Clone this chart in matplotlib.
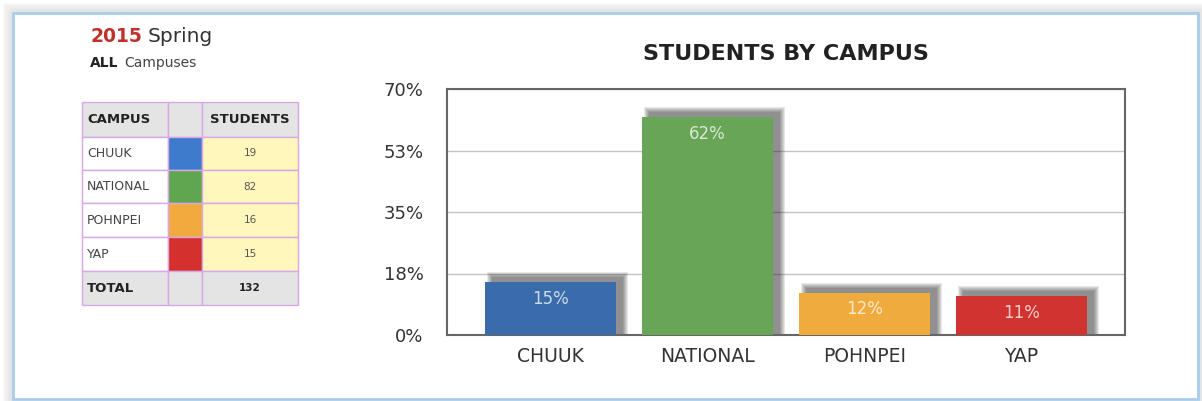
import matplotlib.pyplot as plt
from matplotlib.patches import Rectangle

# enrollment by campus
campuses = ['CHUUK', 'NATIONAL', 'POHNPEI', 'YAP']
students = [19, 82, 16, 15]
total = 132
percents = [15, 62, 12, 11]
bar_colors = ['#3a6cab', '#68a556', '#f0ab3e', '#d13330']
swatch_colors = ['#3f7bcc', '#5fa64f', '#f2aa3f', '#d3302e']
ytick_vals = [0, 17.5, 35, 52.5, 70]
ytick_labels = ['0%', '18%', '35%', '53%', '70%']

plt.rcParams['font.family'] = ['DejaVu Sans']

W, H = 1202, 401
fig = plt.figure(figsize=(W / 100, H / 100), dpi=100)

# background layer in pixel coords (y down)
bg = fig.add_axes([0, 0, 1, 1])
bg.set_xlim(0, W)
bg.set_ylim(H, 0)
bg.axis('off')

# soft shadow around the panel
for i in range(9):
    bg.add_patch(Rectangle((12 - i, 12 - i), 1188 + 2 * i, 400, facecolor='none',
                           edgecolor='#000000', lw=1.2, alpha=0.07 - i * 0.006))
bg.add_patch(Rectangle((13, 13), 1185, 386, facecolor='white', edgecolor='#a8cdec', lw=2))

# header text
t = bg.text(90, 37, '2015', color='#c0312c', fontsize=13.5, fontweight='bold', va='center')
bg.annotate('Spring', xy=(1, 0.5), xycoords=t, xytext=(4, 0), textcoords='offset points',
            color='#333333', fontsize=14.5, va='center')
t = bg.text(90, 63, 'ALL', color='#222222', fontsize=10, fontweight='bold', va='center')
bg.annotate('Campuses', xy=(1, 0.5), xycoords=t, xytext=(4, 0), textcoords='offset points',
            color='#444444', fontsize=10, va='center')

# summary table
col_x = [82, 168, 202, 298]
row_y = [102, 137, 170, 203, 237, 271, 305]
grid_c = '#d9a6e6'
rows = [('CAMPUS', None, 'STUDENTS')]
rows += [(c, sc, str(s)) for c, sc, s in zip(campuses, swatch_colors, students)]
rows += [('TOTAL', None, str(total))]
for r, (name, sw, val) in enumerate(rows):
    y0, y1 = row_y[r], row_y[r + 1]
    head = r == 0 or r == len(rows) - 1
    fills = ['#e4e4e4' if head else 'white',
             sw if sw else '#e4e4e4',
             '#e4e4e4' if head else '#fff7bc']
    for c in range(3):
        bg.add_patch(Rectangle((col_x[c], y0), col_x[c + 1] - col_x[c], y1 - y0,
                               facecolor=fills[c], edgecolor=grid_c, lw=1))
    ym = (y0 + y1) / 2
    bg.text(col_x[0] + 5, ym, name, fontsize=9.5 if head else 9, va='center',
            fontweight='bold' if head else 'normal', color='#222222' if head else '#444444')
    bg.text((col_x[2] + col_x[3]) / 2, ym, val, fontsize=9.5 if r == 0 else 7.5,
            va='center', ha='center', fontweight='bold' if head else 'normal',
            color='#222222' if head else '#555555')

# bar chart
ax = fig.add_axes([447 / W, 1 - 335 / H, (1125 - 447) / W, (335 - 89) / H])
x = list(range(len(campuses)))
bw = 0.83
px_x = 4.32 / 678
px_y = 70 / 246
# blurred drop shadow behind bars, shifted up and right
for k in range(6):
    ax.bar([xi + 7 * px_x for xi in x], [p + (5 + k) * px_y for p in percents],
           width=bw + 2 * k * px_x, color='#1a1a1a', alpha=0.1, zorder=2)
ax.bar(x, percents, width=bw, color=bar_colors, zorder=3)
for xi, p in zip(x, percents):
    ax.annotate(f'{p}%', xy=(xi, p), xytext=(0, -12), textcoords='offset points',
                ha='center', va='center', color='white', alpha=0.75, fontsize=12, zorder=4)

ax.set_xlim(-0.66, 3.66)
ax.set_ylim(0, 70)
ax.set_yticks(ytick_vals)
ax.set_yticklabels(ytick_labels, fontsize=13, color='#333333')
ax.set_xticks(x)
ax.set_xticklabels(campuses, fontsize=13.5, color='#333333')
ax.tick_params(length=0, pad=17, axis='y')
ax.tick_params(length=0, pad=9, axis='x')
ax.yaxis.grid(True, color='#c4c4c4', lw=1)
ax.set_axisbelow(True)
for s in ax.spines.values():
    s.set_color('#666666')
    s.set_linewidth(1.5)

fig.text(786 / W, 1 - 54 / H, 'STUDENTS BY CAMPUS', ha='center', va='center',
         fontsize=16, fontweight='bold', color='#222222')

fig.savefig('out.png', dpi=100)
